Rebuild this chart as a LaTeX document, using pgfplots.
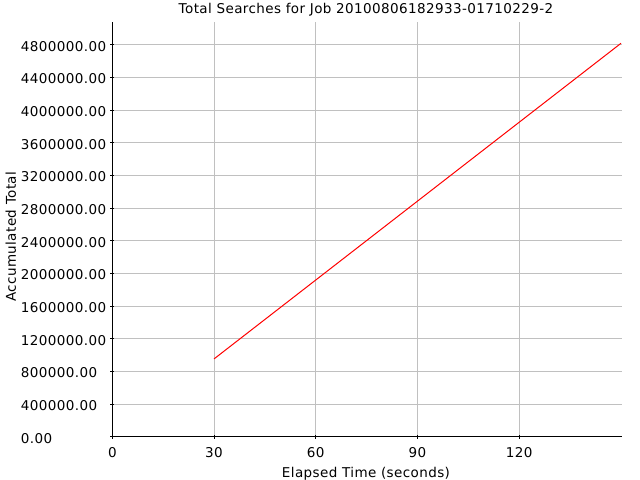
\documentclass[border=0pt]{standalone}
\usepackage{fontspec}
\setmainfont[LetterSpace=3]{DejaVu Sans}
\usepackage{pgfplots}
\pgfplotsset{compat=1.18}
\definecolor{gridgray}{HTML}{C0C0C0}
\newcommand{\jfont}{\fontsize{13.5bp}{15bp}\selectfont}
\begin{document}
\begin{tikzpicture}
\begin{axis}[
    scale only axis,
    width=509.7bp, height=414.7bp,
    xmin=0, xmax=150.3,
    ymin=0, ymax=5081000,
    xtick={0,30,60,90,120},
    ytick={0,400000,800000,1200000,1600000,2000000,2400000,2800000,3200000,3600000,4000000,4400000,4800000},
    scaled y ticks=false,
    axis x line*=bottom,
    axis y line*=left,
    axis line style={black, line width=1bp},
    tick align=center,
    major tick length=4bp,
    tick style={black, line width=1bp},
    grid=major,
    major grid style={gridgray, line width=1bp},
    /pgf/number format/assume math mode=true,
    yticklabel style={
        /pgf/number format/.cd, fixed, fixed zerofill, precision=2, 1000 sep={},
        /tikz/.cd, font=\jfont, anchor=west, inner sep=0pt, xshift=-89.6bp, yshift=-1.5bp},
    xticklabel style={font=\jfont, anchor=north, inner sep=0pt, yshift=-9bp},
    title={Total Searches for Job 20100806182933-01710229-2},
    title style={font=\jfont, at={(axis description cs:0.4977,1.00723)}, anchor=base, inner sep=0pt},
    xlabel={Elapsed Time (seconds)},
    xlabel style={font=\jfont, at={(axis description cs:0.4977,-0.09887)}, anchor=base, inner sep=0pt},
    ylabel={Accumulated Total},
    ylabel style={font=\jfont, at={(axis description cs:-0.18894,0.4823)}, anchor=base, inner sep=0pt},
]
\addplot[red, line width=1bp] coordinates {(30,953000) (150,4820000)};
\end{axis}
\pgfresetboundingbox
\path (current axis.south west) ++(-112.3bp,-43.3bp) rectangle ++(640bp,480bp);
\end{tikzpicture}
\end{document}
